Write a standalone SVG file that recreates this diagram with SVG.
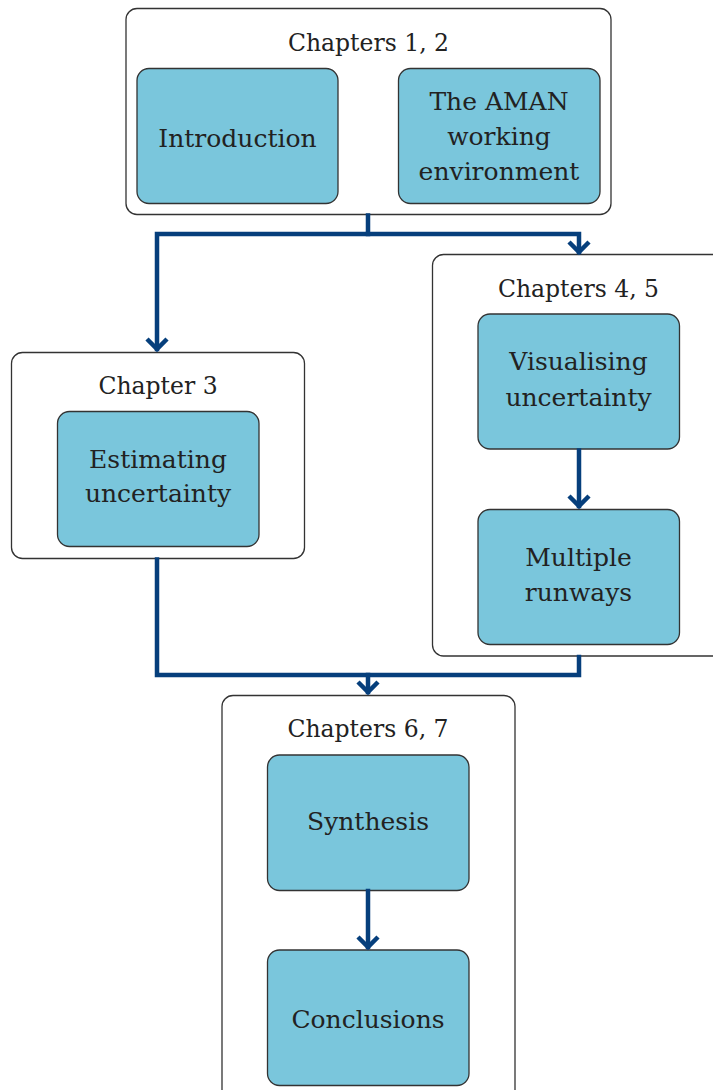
<svg xmlns="http://www.w3.org/2000/svg" width="713" height="1090" viewBox="0 0 713 1090">
<style>
.grp{fill:#ffffff;stroke:#333333;stroke-width:1.3}
.box{fill:#7ac6dc;stroke:#333333;stroke-width:1.3}
text{font-family:"DejaVu Serif","Liberation Serif",serif;font-size:25px;fill:#222222;text-anchor:middle}
text.t{font-size:23.5px}
.con{fill:none;stroke:#063f7c;stroke-width:4.5;stroke-linejoin:miter;stroke-linecap:square}
</style>
<defs>
<marker id="chev" markerUnits="userSpaceOnUse" markerWidth="30" markerHeight="30" viewBox="-15 -15 30 30" refX="0" refY="0" orient="auto" overflow="visible">
<path d="M-10,-10 L0,0 L-10,10" fill="none" stroke="#063f7c" stroke-width="4.5" stroke-linecap="butt" stroke-linejoin="miter"/>
</marker>
</defs>
<g id="chapters12">
<rect class="grp" x="126" y="8.5" width="485" height="206" rx="11"/>
<text class="t" x="368.5" y="50.5">Chapters 1, 2</text>
</g>
<g id="introduction">
<rect class="box" x="137" y="68.5" width="201" height="135" rx="12"/>
<text x="237.5" y="147">Introduction</text>
</g>
<g id="aman">
<rect class="box" x="398.5" y="68.5" width="201.5" height="135" rx="12"/>
<text x="499" y="110">The AMAN</text>
<text x="499" y="145">working</text>
<text x="499" y="180">environment</text>
</g>
<g id="chapter3">
<rect class="grp" x="11.5" y="352.5" width="293" height="206" rx="11"/>
<text class="t" x="158" y="394">Chapter 3</text>
</g>
<g id="estimating">
<rect class="box" x="57.5" y="411.5" width="201.5" height="135" rx="12"/>
<text x="158" y="468">Estimating</text>
<text x="158" y="502">uncertainty</text>
</g>
<g id="chapters45">
<rect class="grp" x="432.5" y="254.5" width="300" height="401.5" rx="11"/>
<text class="t" x="578.5" y="296.5">Chapters 4, 5</text>
</g>
<g id="visualising">
<rect class="box" x="478" y="314" width="201.5" height="135" rx="12"/>
<text x="578.5" y="370">Visualising</text>
<text x="578.5" y="405.5">uncertainty</text>
</g>
<g id="runways">
<rect class="box" x="478" y="509.5" width="201.5" height="135" rx="12"/>
<text x="578.5" y="565.5">Multiple</text>
<text x="578.5" y="601">runways</text>
</g>
<g id="chapters67">
<rect class="grp" x="222" y="695.5" width="293" height="420" rx="11"/>
<text class="t" x="368" y="736.5">Chapters 6, 7</text>
</g>
<g id="synthesis">
<rect class="box" x="267.5" y="755" width="201.5" height="135.5" rx="12"/>
<text x="368" y="829.5">Synthesis</text>
</g>
<g id="conclusions">
<rect class="box" x="267.5" y="950" width="201.5" height="135.5" rx="12"/>
<text x="368" y="1027.5">Conclusions</text>
</g>
<g id="connectors">
<path class="con" d="M368,215.5 V234 H157 V349" marker-end="url(#chev)"/>
<path class="con" d="M368,234 H579 V252" marker-end="url(#chev)"/>
<path class="con" d="M157,559.5 V675 H579 V657"/>
<path class="con" d="M368,675 V692" marker-end="url(#chev)"/>
<path class="con" d="M579,450.5 V506" marker-end="url(#chev)"/>
<path class="con" d="M368,891 V947" marker-end="url(#chev)"/>
</g>
</svg>
